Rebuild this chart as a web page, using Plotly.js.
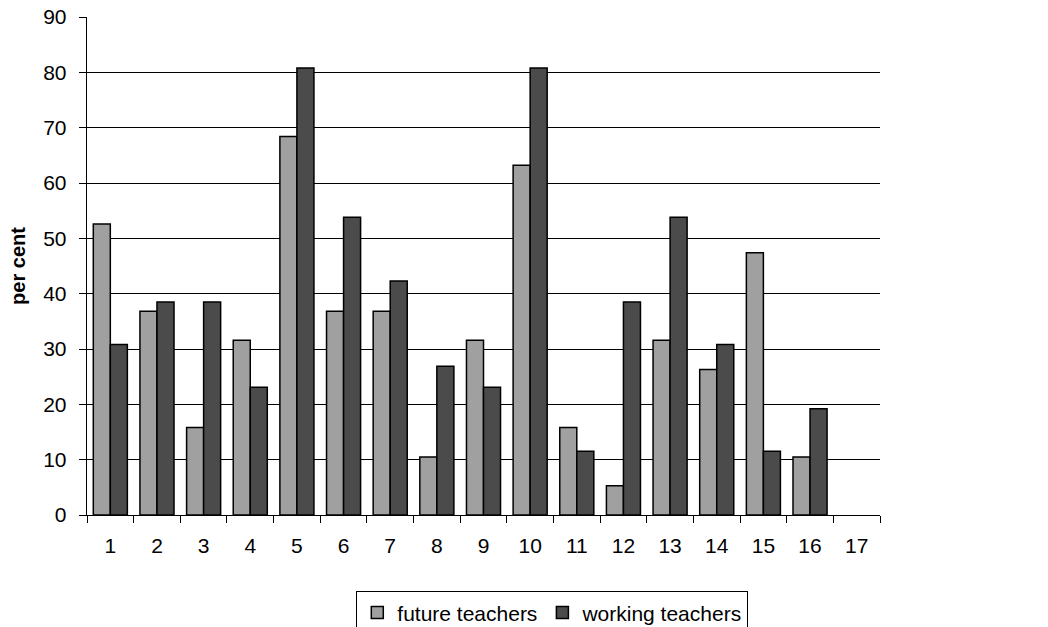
<!DOCTYPE html>
<html><head><meta charset="utf-8">
<script src="https://cdn.plot.ly/plotly-3.0.1.min.js"></script>
<style>html,body{margin:0;padding:0;background:#fff}#chart{width:1048px;height:627px}</style>
</head><body><div id="chart"></div>
<script>
const categories = ["1","2","3","4","5","6","7","8","9","10","11","12","13","14","15","16","17"];
const futureTeachers = [52.6,36.8,15.8,31.6,68.4,36.8,36.8,10.5,31.6,63.2,15.8,5.3,31.6,26.3,47.4,10.5,null];
const workingTeachers = [30.8,38.5,38.5,23.1,80.8,53.8,42.3,26.9,23.1,80.8,11.5,38.5,53.8,30.8,11.5,19.2,null];
const seriesNames = ["future teachers","working teachers"];

const font = {family:"Liberation Sans, Arial, sans-serif", size:21, color:"#000"};
const traces = [
  {type:"bar", x:categories, y:futureTeachers, name:seriesNames[0],
   marker:{color:"#a0a0a0", line:{color:"#000", width:1.5}}},
  {type:"bar", x:categories, y:workingTeachers, name:seriesNames[1],
   marker:{color:"#4b4b4b", line:{color:"#000", width:1.5}}}
];
const layout = {
  width:1048, height:627,
  margin:{l:87, r:168, t:17, b:112},
  paper_bgcolor:"#fff", plot_bgcolor:"#fff",
  font:font,
  barmode:"group", bargap:0.27, bargroupgap:0,
  showlegend:true,
  legend:{orientation:"h", xref:"container", x:0.527, xanchor:"center",
    yref:"container", y:0.057, yanchor:"top",
    bordercolor:"#000", borderwidth:1, font:font, traceorder:"normal",
    itemwidth:30},
  xaxis:{type:"category", tickson:"boundaries", ticks:"outside", ticklen:7, tickcolor:"#000",
    ticklabelstandoff:11,
    showline:true, linecolor:"#000", linewidth:1.3, showgrid:false, tickfont:font,
    automargin:false, fixedrange:true},
  yaxis:{range:[0,90], dtick:10, ticks:"outside", ticklen:7, tickcolor:"#000",
    ticklabelstandoff:8, automargin:false,
    showline:true, linecolor:"#000", linewidth:1.3, showgrid:true, gridcolor:"#000", gridwidth:1,
    zeroline:false, tickfont:font,
    title:{text:"<b>per cent</b>", font:{family:font.family, size:20, color:"#000"}, standoff:12}}
};
Plotly.newPlot("chart", traces, layout, {displayModeBar:false, staticPlot:true});
</script></body></html>
